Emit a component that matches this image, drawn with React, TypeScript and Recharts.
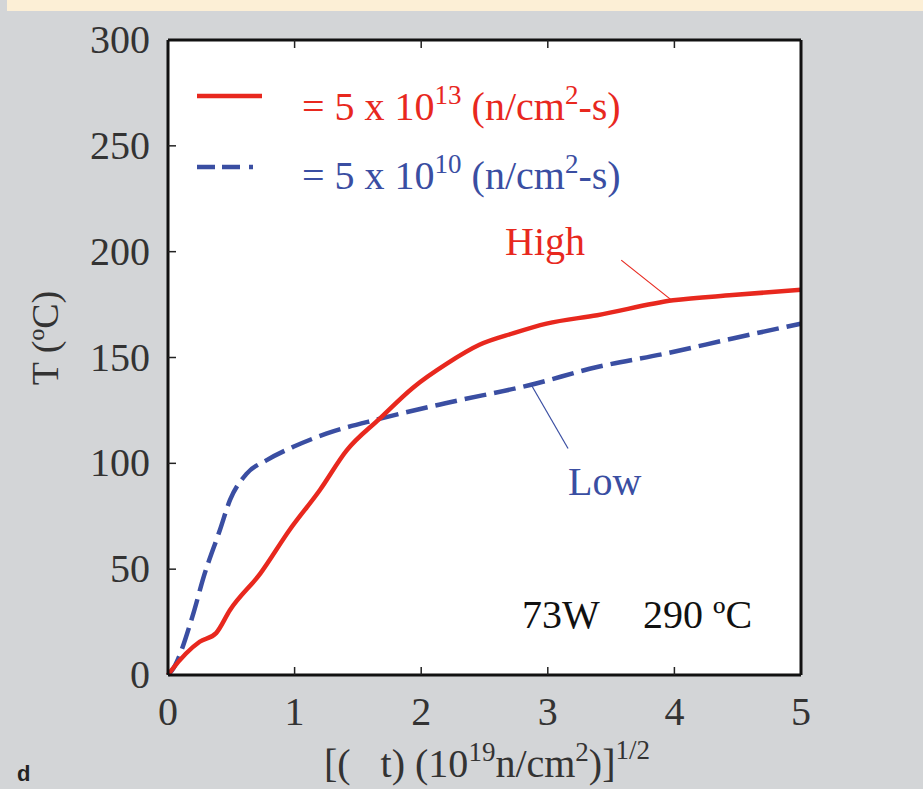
import { LineChart, Line, XAxis, YAxis, ReferenceLine } from 'recharts';

const xTicks = [0, 1, 2, 3, 4, 5];
const yTicks = [0, 50, 100, 150, 200, 250, 300];

// High flux (5 x 10^13)
const highX = [0, 0.03, 0.25, 0.38, 0.49, 0.73, 0.96, 1.2, 1.41, 1.67, 1.94, 2.2, 2.46, 2.73, 2.99, 3.39, 3.99, 4.46, 5];
const highY = [0, 2.4, 15.7, 19.8, 30.7, 48, 68.5, 87.4, 106, 121, 136, 147, 156, 161.5, 166, 170, 177, 179.5, 182];

// Low flux (5 x 10^10)
const lowX = [0, 0.03, 0.2, 0.28, 0.41, 0.49, 0.62, 0.78, 0.99, 1.25, 1.67, 2.2, 2.86, 3.39, 3.94, 4.46, 5];
const lowY = [0, 2, 29, 46, 68.5, 82.7, 95, 101.5, 107.8, 114, 121, 128.5, 137, 145.5, 152, 159, 166];

const highData = highX.map((x, i) => ({ x, y: highY[i] }));
const lowData = lowX.map((x, i) => ({ x, y: lowY[i] }));

const SERIF = "'Liberation Serif', 'Times New Roman', serif";
const RED = '#e8281e';
const BLUE = '#3a4ea2';
const TICK = 8;
const FS = 40;
const SUP = 27;

function BottomTick(props: any) {
  const { x, y, payload } = props;
  return (
    <g>
      {payload.value !== 0 && payload.value !== 5 && (
        <line x1={x} y1={y} x2={x} y2={y - TICK} stroke="#222" strokeWidth={1.5} />
      )}
      <text x={x} y={y + 50} textAnchor="middle" fontFamily={SERIF} fontSize={FS} fill="#333">
        {payload.value}
      </text>
    </g>
  );
}

function TopTick(props: any) {
  const { x, y, payload } = props;
  if (payload.value === 0 || payload.value === 5) return <g />;
  return <line x1={x} y1={y} x2={x} y2={y + TICK} stroke="#222" strokeWidth={1.5} />;
}

function LeftTick(props: any) {
  const { x, y, payload } = props;
  return (
    <g>
      {payload.value !== 0 && payload.value !== 300 && (
        <line x1={x} y1={y} x2={x + TICK} y2={y} stroke="#222" strokeWidth={1.5} />
      )}
      <text x={x - 18} y={y + 13} textAnchor="end" fontFamily={SERIF} fontSize={FS} fill="#333">
        {payload.value}
      </text>
    </g>
  );
}

function RightTick(props: any) {
  const { x, y, payload } = props;
  if (payload.value === 0 || payload.value === 300) return <g />;
  return <line x1={x} y1={y} x2={x - TICK} y2={y} stroke="#222" strokeWidth={1.5} />;
}

const axisLine = { stroke: '#111', strokeWidth: 3 };

export default function App() {
  return (
    <div style={{ position: 'absolute', left: 0, top: 0, width: 923, height: 789, background: '#d3d5d7', overflow: 'hidden' }}>
      <div style={{ position: 'absolute', left: 7, top: 0, width: 916, height: 11, background: '#fcefd6' }} />
      <div style={{ position: 'absolute', left: 168, top: 40, width: 633, height: 635, background: '#ffffff' }} />
      <div style={{ position: 'absolute', left: 0, top: 0 }}>
        <LineChart width={923} height={789} data={highData} margin={{ top: 39, right: 121, bottom: 113, left: 167 }}>
          <XAxis
            type="number"
            dataKey="x"
            domain={[0, 5]}
            ticks={xTicks}
            height={1}
            tickSize={0}
            tickMargin={0}
            tickLine={false}
            axisLine={axisLine}
            tick={BottomTick}
          />
          <XAxis
            xAxisId="top"
            orientation="top"
            type="number"
            dataKey="x"
            domain={[0, 5]}
            ticks={xTicks}
            height={1}
            tickSize={0}
            tickMargin={0}
            tickLine={false}
            axisLine={axisLine}
            tick={TopTick}
          />
          <YAxis
            type="number"
            domain={[0, 300]}
            ticks={yTicks}
            width={1}
            tickSize={0}
            tickMargin={0}
            tickLine={false}
            axisLine={axisLine}
            tick={LeftTick}
          />
          <YAxis
            yAxisId="right"
            orientation="right"
            type="number"
            domain={[0, 300]}
            ticks={yTicks}
            width={1}
            tickSize={0}
            tickMargin={0}
            tickLine={false}
            axisLine={axisLine}
            tick={RightTick}
          />
          <ReferenceLine segment={[{ x: 3.58, y: 196 }, { x: 3.98, y: 177 }]} stroke={RED} strokeWidth={1.2} />
          <ReferenceLine segment={[{ x: 2.87, y: 137 }, { x: 3.16, y: 107 }]} stroke={BLUE} strokeWidth={1.2} />
          <Line
            data={lowData}
            dataKey="y"
            type="monotone"
            stroke={BLUE}
            strokeWidth={4.5}
            strokeDasharray="22 8"
            dot={false}
            isAnimationActive={false}
          />
          <Line
            data={highData}
            dataKey="y"
            type="monotone"
            stroke={RED}
            strokeWidth={4.5}
            dot={false}
            isAnimationActive={false}
          />
        </LineChart>
      </div>
      <svg width={923} height={789} style={{ position: 'absolute', left: 0, top: 0, pointerEvents: 'none' }}>
        <line x1={197} y1={96} x2={262} y2={96} stroke={RED} strokeWidth={4.5} />
        <line x1={197} y1={167} x2={262} y2={167} stroke={BLUE} strokeWidth={4.5} strokeDasharray="18 7 18 9 4 20" />
        <text x={302} y={120} fontFamily={SERIF} fontSize={FS} fill={RED}>
          = 5 x 10<tspan dy={-16} fontSize={SUP}>13</tspan>
          <tspan dy={16}>{'\u00A0(n/cm'}</tspan>
          <tspan dy={-16} fontSize={SUP}>2</tspan>
          <tspan dy={16}>-s)</tspan>
        </text>
        <text x={302} y={189} fontFamily={SERIF} fontSize={FS} fill={BLUE}>
          = 5 x 10<tspan dy={-16} fontSize={SUP}>10</tspan>
          <tspan dy={16}>{'\u00A0(n/cm'}</tspan>
          <tspan dy={-16} fontSize={SUP}>2</tspan>
          <tspan dy={16}>-s)</tspan>
        </text>
        <text x={505} y={255} fontFamily={SERIF} fontSize={FS} fill={RED}>High</text>
        <text x={568} y={495} fontFamily={SERIF} fontSize={FS} fill={BLUE}>Low</text>
        <text x={522} y={628} fontFamily={SERIF} fontSize={FS} fill="#111">73W</text>
        <text x={643} y={628} fontFamily={SERIF} fontSize={FS} fill="#111">290 ºC</text>
        <text
          x={0}
          y={0}
          transform="translate(58 338) rotate(-90)"
          textAnchor="middle"
          fontFamily={SERIF}
          fontSize={38}
          fill="#333"
        >
          T (ºC)
        </text>
        <text x={487} y={777} textAnchor="middle" fontFamily={SERIF} fontSize={FS} fill="#333">
          {'[(\u00A0\u00A0\u00A0t) (10'}
          <tspan dy={-16} fontSize={SUP}>19</tspan>
          <tspan dy={16}>n/cm</tspan>
          <tspan dy={-16} fontSize={SUP}>2</tspan>
          <tspan dy={16}>)]</tspan>
          <tspan dy={-18} fontSize={SUP}>1/2</tspan>
        </text>
        <text x={17} y={781} fontFamily="'Liberation Sans', Arial, sans-serif" fontWeight="bold" fontSize={22} fill="#222">d</text>
      </svg>
    </div>
  );
}
